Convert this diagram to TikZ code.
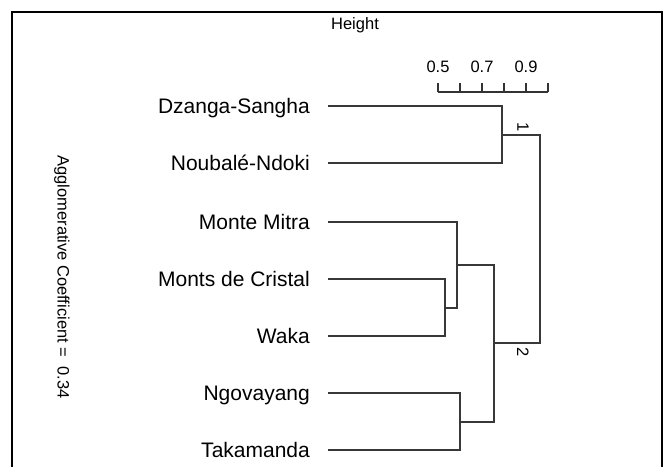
\documentclass[tikz,border=0pt]{standalone}
\usepackage{fontspec}
\setmainfont{Liberation Sans}
\begin{document}
\begin{tikzpicture}[x=1pt,y=-1pt,
  leaf/.style={anchor=base east,inner sep=0pt,font=\fontsize{21}{25}\selectfont},
  small/.style={inner sep=0pt,font=\fontsize{16.5}{20}\selectfont},
  dend/.style={line width=1.4pt,draw=black!78},
  frame/.style={line width=1.3pt,draw=black}]
\useasboundingbox (0,0) rectangle (666,467);
\fill[white] (0,0) rectangle (666,467);
% frame
\coordinate (fbl) at (12,467);
\coordinate (ftl) at (12,12);
\coordinate (ftr) at (662,12);
\coordinate (fbr) at (662,467);
\draw[frame] (fbl) -- (ftl) -- (ftr) -- (fbr);
% title
\node[small] (title) at (355,25) {Height};
% axis
\coordinate (ax0) at (438,92);
\coordinate (ax1) at (548,92);
\draw[line width=1.2pt,black!80] (ax0) -- (ax1);
\foreach \k in {0,...,5} {
  \coordinate (tk\k) at ({438+22*\k},83);
  \draw[line width=1.2pt,black!80] (tk\k) -- ({438+22*\k},92);
}
\node[small] (a05) at (438,67) {0.5};
\node[small] (a07) at (482,67) {0.7};
\node[small] (a09) at (526,67) {0.9};
% y label
\node[small,rotate=-90] (ylab) at (62,277) {Agglomerative Coefficient =\ \ 0.34};
% leaves
\coordinate (lA) at (328,106);
\coordinate (lB) at (328,163);
\coordinate (lC) at (328,222);
\coordinate (lD) at (328,279);
\coordinate (lE) at (328,336);
\coordinate (lF) at (328,393);
\coordinate (lG) at (328,450);
\node[leaf] (tA) at (310,113.5) {Dzanga-Sangha};
\node[leaf] (tB) at (310,170.5) {Noubalé-Ndoki};
\node[leaf] (tC) at (310,229.5) {Monte Mitra};
\node[leaf] (tD) at (310,286.5) {Monts de Cristal};
\node[leaf] (tE) at (310,343.5) {Waka};
\node[leaf] (tF) at (310,400.5) {Ngovayang};
\node[leaf] (tG) at (310,457.5) {Takamanda};
% merges
\coordinate (mAB) at (502,135);
\coordinate (mDE) at (445,308);
\coordinate (mCDE) at (457,265);
\coordinate (mFG) at (460,422);
\coordinate (mCG) at (494,343);
\coordinate (root) at (540,239);
\draw[dend] (lA) -| (mAB) |- (lB);
\draw[dend] (lD) -| (mDE) |- (lE);
\draw[dend] (lC) -| (mCDE) |- (mDE);
\draw[dend] (lF) -| (mFG) |- (lG);
\draw[dend] (mCDE) -| (mCG) |- (mFG);
\draw[dend] (mAB) -| (root) |- (mCG);
% cluster numbers
\node[small,rotate=-90] (c1) at (523,127) {1};
\node[small,rotate=-90] (c2) at (523,352) {2};
\end{tikzpicture}
\end{document}
